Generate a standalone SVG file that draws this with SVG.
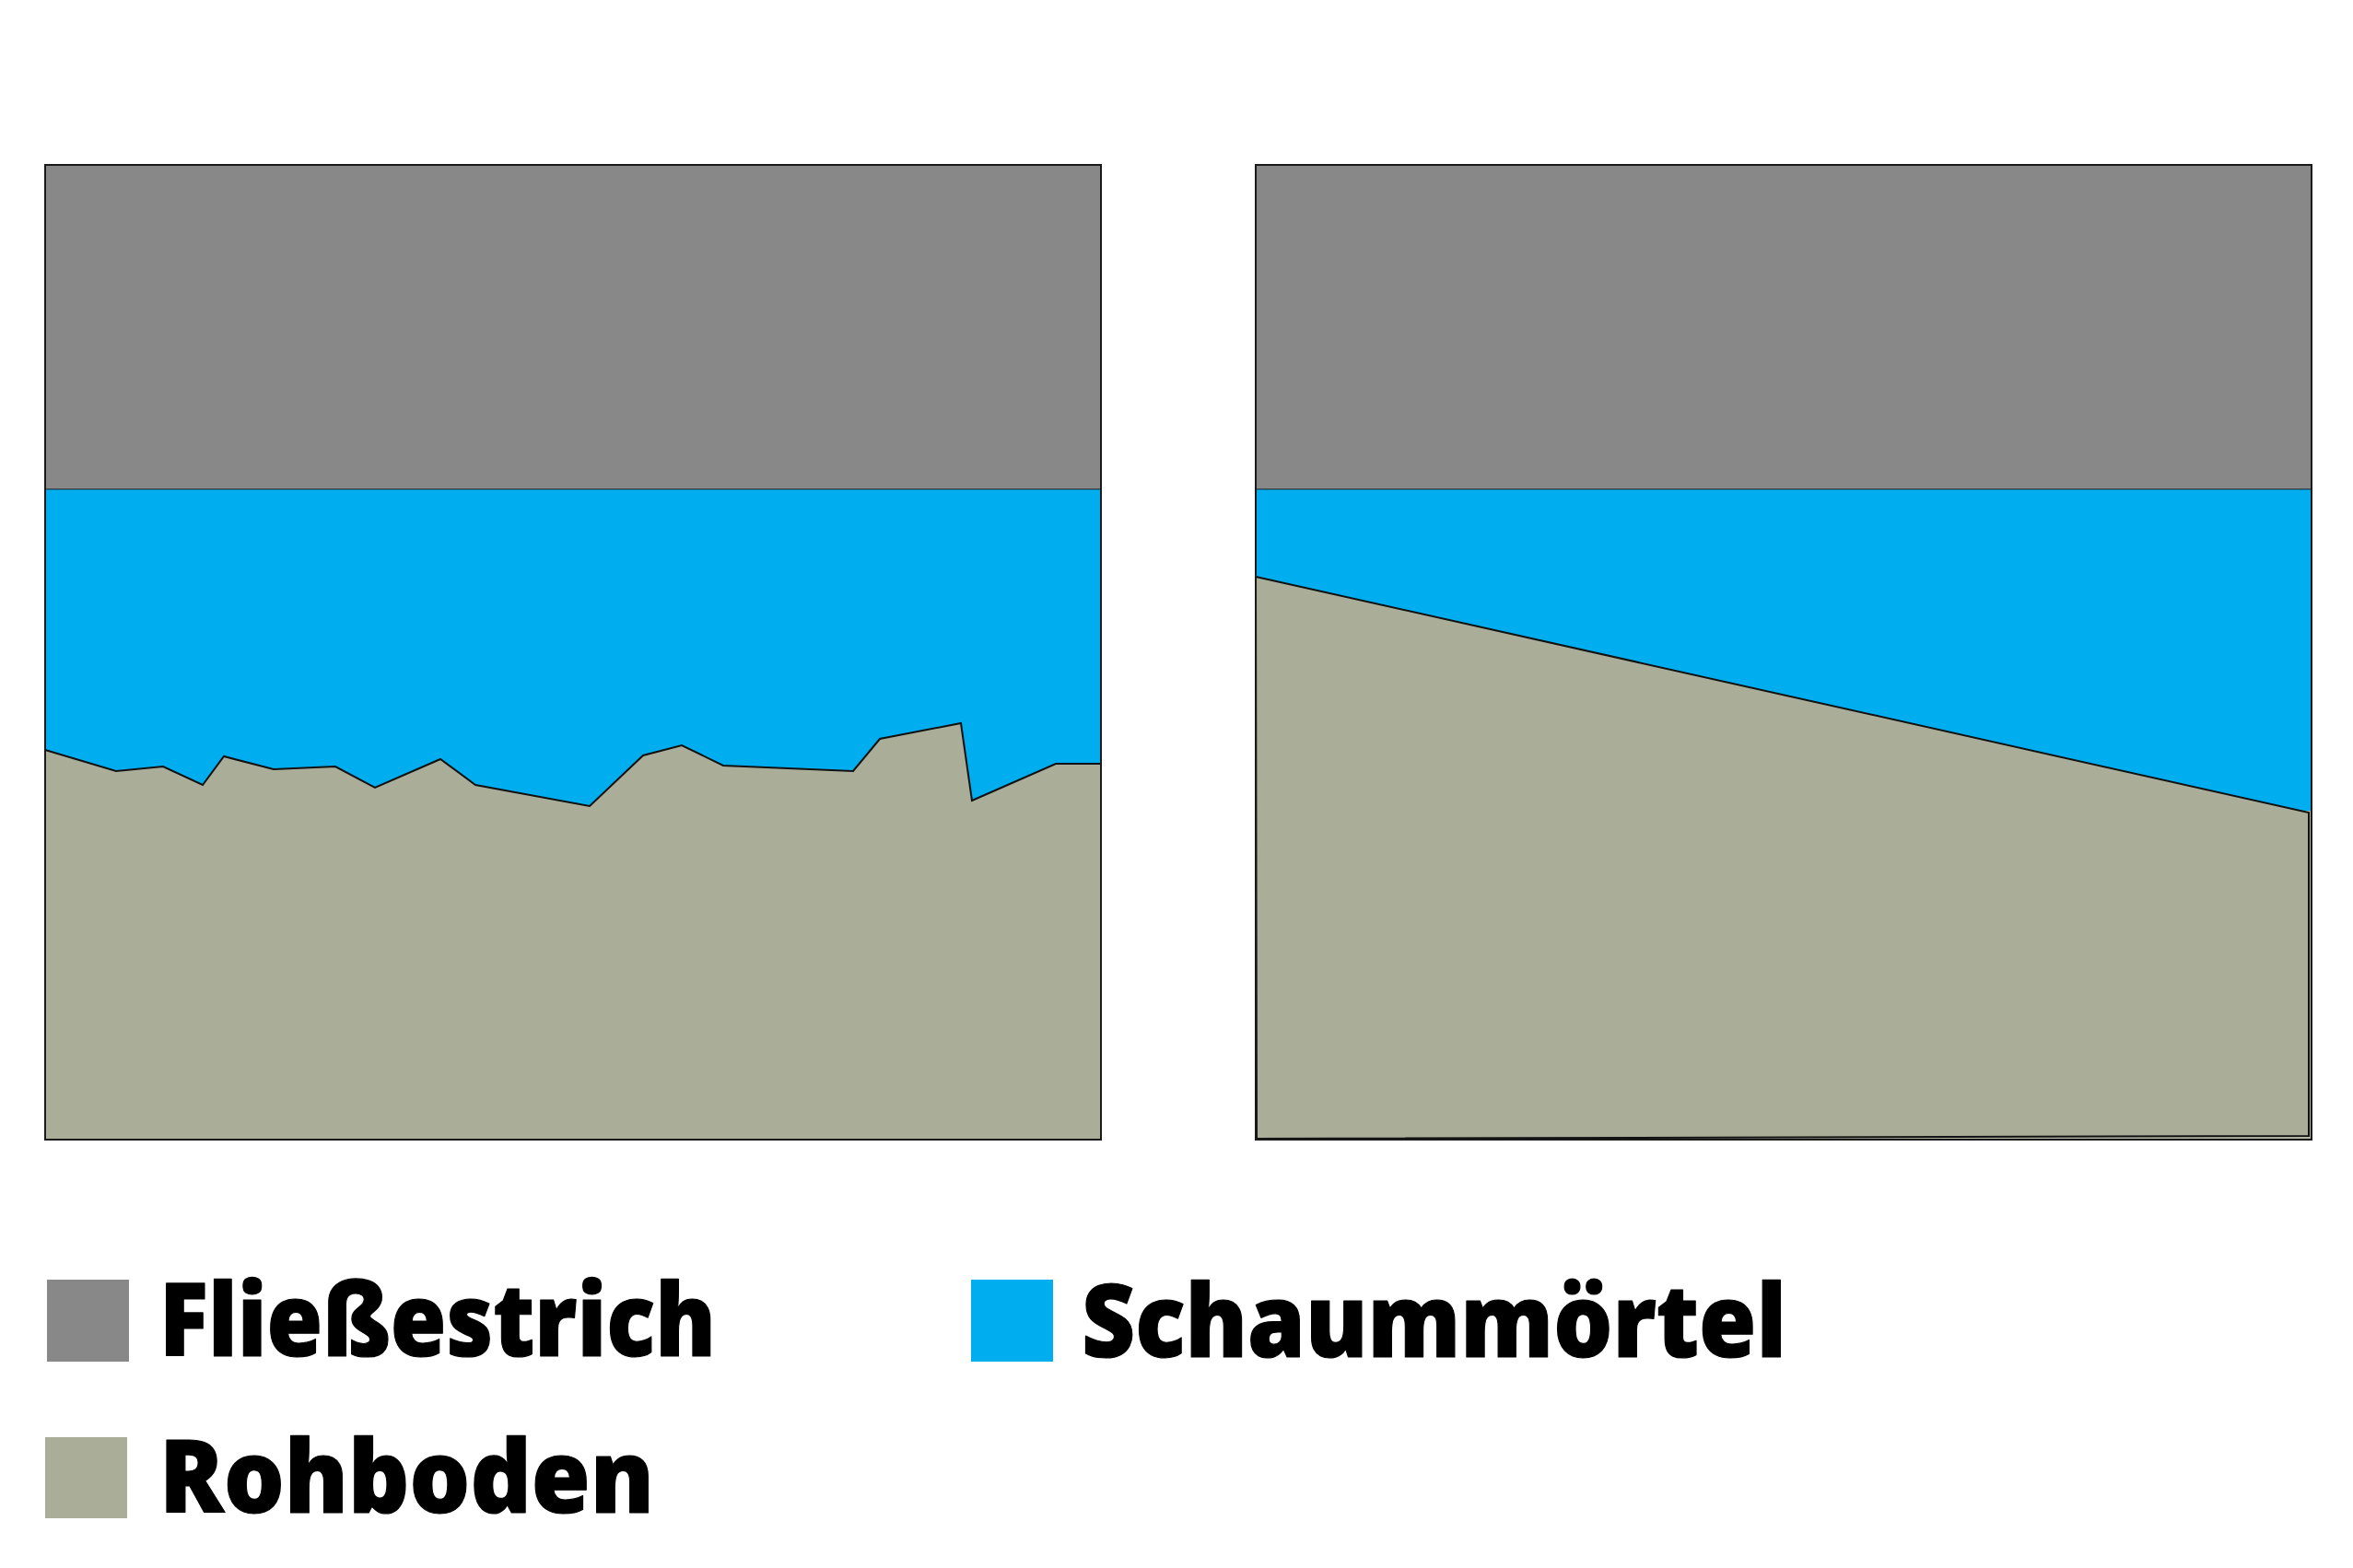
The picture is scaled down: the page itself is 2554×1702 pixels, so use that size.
<svg xmlns="http://www.w3.org/2000/svg" width="2554" height="1702" viewBox="0 0 2554 1702">
<style>
.estrich{fill:#888888}
.schaum{fill:#00AEEF}
.roh{fill:#AAAD98;stroke:#111;stroke-width:2;stroke-linejoin:miter}
.frame{fill:none;stroke:#1a1a1a;stroke-width:2}
.lbl{font-family:"Open Sans","Noto Sans","Liberation Sans",sans-serif;font-weight:800;font-size:110px;fill:#000;stroke:#000;stroke-width:1.2;stroke-linejoin:round}
</style>
<rect width="2554" height="1702" fill="#ffffff"/>
<g id="panel-left">
<rect class="schaum" x="49" y="531" width="1146" height="706"/>
<rect class="estrich" x="49" y="179" width="1146" height="352"/>
<line x1="49" y1="531" x2="1195" y2="531" stroke="#1a1a1a" stroke-width="1"/>
<polygon class="roh" points="49,814 126,837 177,832 220,852 243,821 297,835 364,832 407,855 478,824 516,852 640,875 698,820 740,809 785,831 926,837 955,802 1043,785 1055,869 1146,829 1195,829 1195,1237 49,1237"/>
<rect class="frame" x="49" y="179" width="1146" height="1058"/>
</g>
<g id="panel-right">
<rect class="schaum" x="1363" y="531" width="1146" height="706"/>
<rect class="estrich" x="1363" y="179" width="1146" height="352"/>
<rect fill="#B4B6A6" x="2500" y="880" width="9" height="357"/>
<rect fill="#B4B6A6" x="1363" y="1225" width="1146" height="12"/>
<line x1="1363" y1="531" x2="2509" y2="531" stroke="#1a1a1a" stroke-width="1"/>
<polygon class="roh" points="1363,626 2506,882 2506,1233 1364,1236"/>
<rect class="frame" x="1363" y="179" width="1146" height="1058"/>
</g>
<g id="legend-fliessestrich">
<rect class="estrich" x="51" y="1389" width="89" height="89"/>
<text class="lbl" x="173" y="1472" textLength="604" lengthAdjust="spacingAndGlyphs">Fließestrich</text>
</g>
<g id="legend-schaummoertel">
<rect class="schaum" x="1054" y="1389" width="89" height="89"/>
<text class="lbl" x="1174" y="1473" textLength="765" lengthAdjust="spacingAndGlyphs">Schaummörtel</text>
</g>
<g id="legend-rohboden">
<rect fill="#AAAD98" x="49" y="1560" width="89" height="88"/>
<text class="lbl" x="173" y="1642" textLength="537" lengthAdjust="spacingAndGlyphs">Rohboden</text>
</g>
<g id="connectors"/>
</svg>
